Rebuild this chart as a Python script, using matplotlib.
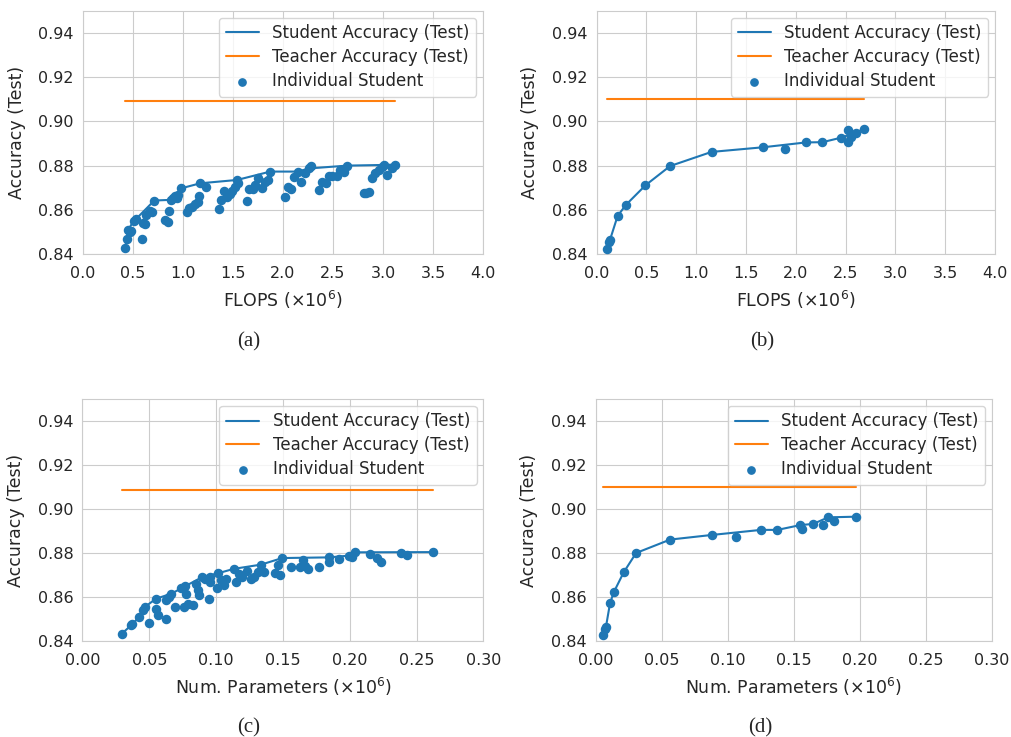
import os
import numpy as np
import matplotlib
matplotlib.use('Agg')
import matplotlib.pyplot as plt
from matplotlib import font_manager
import seaborn as sns

sns.set_style('whitegrid')
dejavu = os.path.join(matplotlib.get_data_path(), 'fonts', 'ttf', 'DejaVuSans.ttf')
font_manager.fontManager.addfont(dejavu)
plt.rcParams['font.family'] = 'sans-serif'
plt.rcParams['font.sans-serif'] = ['DejaVu Sans']
plt.rcParams['mathtext.fontset'] = 'dejavusans'

# (a) FLOPS sweep: every trained student
flops_a = [0.42, 0.44, 0.453, 0.47, 0.483, 0.507, 0.53, 0.587, 0.60, 0.623, 0.63, 0.673, 0.69,
           0.713, 0.817, 0.847, 0.863, 0.88, 0.90, 0.92, 0.94, 0.95, 0.98, 1.04, 1.06, 1.09,
           1.12, 1.15, 1.16, 1.173, 1.23, 1.357, 1.38, 1.413, 1.44, 1.47, 1.49, 1.52, 1.54,
           1.547, 1.64, 1.663, 1.697, 1.723, 1.75, 1.79, 1.823, 1.85, 1.873, 2.023, 2.047,
           2.083, 2.113, 2.15, 2.183, 2.217, 2.257, 2.28, 2.357, 2.39, 2.433, 2.457, 2.49,
           2.54, 2.573, 2.607, 2.64, 2.807, 2.83, 2.857, 2.89, 2.923, 2.957, 2.99, 3.007,
           3.04, 3.09, 3.123]
acc_a = [0.8429, 0.8468, 0.8509, 0.8498, 0.8505, 0.8551, 0.8558, 0.8469, 0.8539, 0.8536,
         0.8577, 0.8596, 0.8592, 0.8642, 0.8554, 0.8546, 0.8595, 0.8645, 0.8655, 0.8662,
         0.8655, 0.8665, 0.8697, 0.8589, 0.8607, 0.8614, 0.8626, 0.8637, 0.8663, 0.8720,
         0.8705, 0.8602, 0.8645, 0.8686, 0.8658, 0.8670, 0.8685, 0.8702, 0.8735, 0.8720,
         0.8640, 0.8695, 0.8695, 0.8712, 0.8743, 0.8697, 0.8726, 0.8735, 0.8773, 0.8660,
         0.8705, 0.8693, 0.8750, 0.8773, 0.8725, 0.8765, 0.8787, 0.8797, 0.8690, 0.8728,
         0.8720, 0.8755, 0.8755, 0.8755, 0.8780, 0.8773, 0.8800, 0.8675, 0.8678, 0.8680,
         0.8746, 0.8766, 0.8780, 0.8795, 0.8803, 0.8758, 0.8788, 0.8805]
# (a) best-so-far students
front_flops_a = [0.42, 0.44, 0.453, 0.507, 0.53, 0.713, 0.88, 0.98, 1.173, 1.54, 1.873,
                 2.15, 2.257, 2.64, 3.007, 3.123]
front_acc_a = [0.8429, 0.8468, 0.8509, 0.8551, 0.8558, 0.8642, 0.8645, 0.8697, 0.8720,
               0.8735, 0.8773, 0.8773, 0.8787, 0.8800, 0.8803, 0.8805]
teacher_a = 0.9091

# (b)
flops_b = [0.10, 0.127, 0.133, 0.21, 0.293, 0.49, 0.737, 1.153, 1.67, 1.89, 2.103, 2.267,
           2.45, 2.523, 2.523, 2.557, 2.60, 2.683]
acc_b = [0.8423, 0.8453, 0.8463, 0.8572, 0.8622, 0.8711, 0.8798, 0.8862, 0.8883, 0.8874,
         0.8905, 0.8906, 0.8926, 0.8961, 0.8907, 0.8931, 0.8949, 0.8966]
front_flops_b = [0.10, 0.133, 0.21, 0.293, 0.49, 0.737, 1.153, 1.67, 2.103, 2.267, 2.45,
                 2.60, 2.683]
front_acc_b = [0.8423, 0.8463, 0.8572, 0.8622, 0.8711, 0.8798, 0.8862, 0.8883, 0.8905,
               0.8906, 0.8926, 0.8949, 0.8966]
teacher_b = 0.9101

# (c) parameter sweep
params_c = [0.0292, 0.036, 0.0373, 0.0424, 0.0454, 0.0467, 0.0495, 0.055, 0.055, 0.0563,
            0.0627, 0.0627, 0.0644, 0.0665, 0.0695, 0.074, 0.0766, 0.0778, 0.076, 0.0791,
            0.0824, 0.0849, 0.0862, 0.0872, 0.0894, 0.0918, 0.095, 0.0956, 0.0956, 0.1006,
            0.1015, 0.104, 0.1057, 0.107, 0.1133, 0.1146, 0.1171, 0.1191, 0.1234, 0.126,
            0.1285, 0.131, 0.1335, 0.136, 0.1437, 0.1475, 0.1462, 0.1495, 0.1563, 0.1627,
            0.1647, 0.1665, 0.169, 0.1766, 0.1842, 0.1847, 0.1918, 0.1994, 0.2019, 0.2039,
            0.2151, 0.2201, 0.2234, 0.238, 0.243, 0.262]
acc_c = [0.8432, 0.8473, 0.8476, 0.8510, 0.8543, 0.8555, 0.8480, 0.8592, 0.8547, 0.8517,
         0.8502, 0.8584, 0.8600, 0.8615, 0.8555, 0.8642, 0.8648, 0.8615, 0.8555, 0.8570,
         0.8562, 0.8660, 0.8633, 0.8608, 0.8690, 0.8683, 0.8593, 0.8693, 0.8667, 0.8642,
         0.8708, 0.8675, 0.8653, 0.8683, 0.8728, 0.8667, 0.8705, 0.8690, 0.8720, 0.8683,
         0.8693, 0.8713, 0.8747, 0.8713, 0.8708, 0.8702, 0.8747, 0.8777, 0.8735, 0.8735,
         0.8768, 0.8743, 0.8725, 0.8735, 0.8780, 0.8758, 0.8773, 0.8788, 0.8780, 0.8803,
         0.8795, 0.8776, 0.8758, 0.8800, 0.8791, 0.8804]
front_params_c = [0.0292, 0.0373, 0.0424, 0.0467, 0.055, 0.0665, 0.0766, 0.0894, 0.1015,
                  0.1133, 0.1335, 0.1495, 0.1842, 0.1994, 0.2039, 0.262]
front_acc_c = [0.8432, 0.8476, 0.8510, 0.8555, 0.8592, 0.8615, 0.8648, 0.8690, 0.8708,
               0.8728, 0.8747, 0.8777, 0.8780, 0.8788, 0.8803, 0.8804]
teacher_c = 0.9087

# (d)
params_d = [0.0058, 0.0071, 0.0078, 0.0109, 0.0139, 0.0212, 0.0306, 0.0564, 0.088, 0.106,
            0.1252, 0.1376, 0.155, 0.1565, 0.1646, 0.1722, 0.176, 0.1803, 0.1968]
acc_d = [0.8427, 0.8455, 0.8465, 0.8573, 0.8624, 0.8712, 0.8800, 0.8861, 0.8882, 0.8871,
         0.8905, 0.8905, 0.8927, 0.8909, 0.8932, 0.8927, 0.8962, 0.8947, 0.8965]
front_params_d = [0.0058, 0.0078, 0.0109, 0.0139, 0.0212, 0.0306, 0.0564, 0.088, 0.1252,
                  0.1376, 0.155, 0.1646, 0.176, 0.1968]
front_acc_d = [0.8427, 0.8465, 0.8573, 0.8624, 0.8712, 0.8800, 0.8861, 0.8882, 0.8905,
               0.8905, 0.8927, 0.8932, 0.8962, 0.8965]
teacher_d = 0.9098

blue = '#1f77b4'
orange = '#ff7f0e'

fig = plt.figure(figsize=(10.11, 7.37), dpi=100)
ax_a = fig.add_axes([0.0821, 0.6554, 0.3956, 0.3297])
ax_b = fig.add_axes([0.5902, 0.6554, 0.3940, 0.3297])
ax_c = fig.add_axes([0.0816, 0.1303, 0.3966, 0.3283])
ax_d = fig.add_axes([0.5892, 0.1303, 0.3920, 0.3283])

panels = [
    (ax_a, flops_a, acc_a, front_flops_a, front_acc_a, teacher_a, 'FLOPS', (0, 4.0), '(a)'),
    (ax_b, flops_b, acc_b, front_flops_b, front_acc_b, teacher_b, 'FLOPS', (0, 4.0), '(b)'),
    (ax_c, params_c, acc_c, front_params_c, front_acc_c, teacher_c, 'Num. Parameters', (0, 0.30), '(c)'),
    (ax_d, params_d, acc_d, front_params_d, front_acc_d, teacher_d, 'Num. Parameters', (0, 0.30), '(d)'),
]

for ax, xs, ys, fx, fy, teach, xname, xlim, tag in panels:
    ax.plot(fx, fy, color=blue, lw=1.5, label='Student Accuracy (Test)')
    ax.plot([min(xs), max(xs)], [teach, teach], color=orange, lw=1.5,
            label='Teacher Accuracy (Test)')
    ax.scatter(xs, ys, s=34, color=blue, zorder=3, label='Individual Student')
    ax.set_xlim(*xlim)
    ax.set_ylim(0.84, 0.95)
    ax.set_yticks([0.84, 0.86, 0.88, 0.90, 0.92, 0.94])
    ax.yaxis.set_major_formatter(matplotlib.ticker.FormatStrFormatter('%.2f'))
    if xlim[1] < 1:
        ax.set_xticks(np.arange(0, 0.31, 0.05))
        ax.xaxis.set_major_formatter(matplotlib.ticker.FormatStrFormatter('%.2f'))
    else:
        ax.set_xticks(np.arange(0, 4.01, 0.5))
        ax.xaxis.set_major_formatter(matplotlib.ticker.FormatStrFormatter('%.1f'))
    ax.tick_params(labelsize=11.5, colors='.15')
    ax.tick_params(axis='x', pad=5)
    ax.tick_params(axis='y', pad=3)
    ax.set_xlabel(xname + r' ($\times 10^6$)', fontsize=12.5, color='.15', labelpad=6)
    ax.set_ylabel('Accuracy (Test)', fontsize=12.5, color='.15', labelpad=9)
    ax.legend(loc='upper right', fontsize=12, frameon=True, borderaxespad=0.4,
              labelspacing=0.35, markerscale=0.9)
    ax.text(0.415, -0.36, tag, transform=ax.transAxes, ha='center', va='center',
            fontsize=15, family='Liberation Serif')

fig.savefig('out.png', dpi=100)
